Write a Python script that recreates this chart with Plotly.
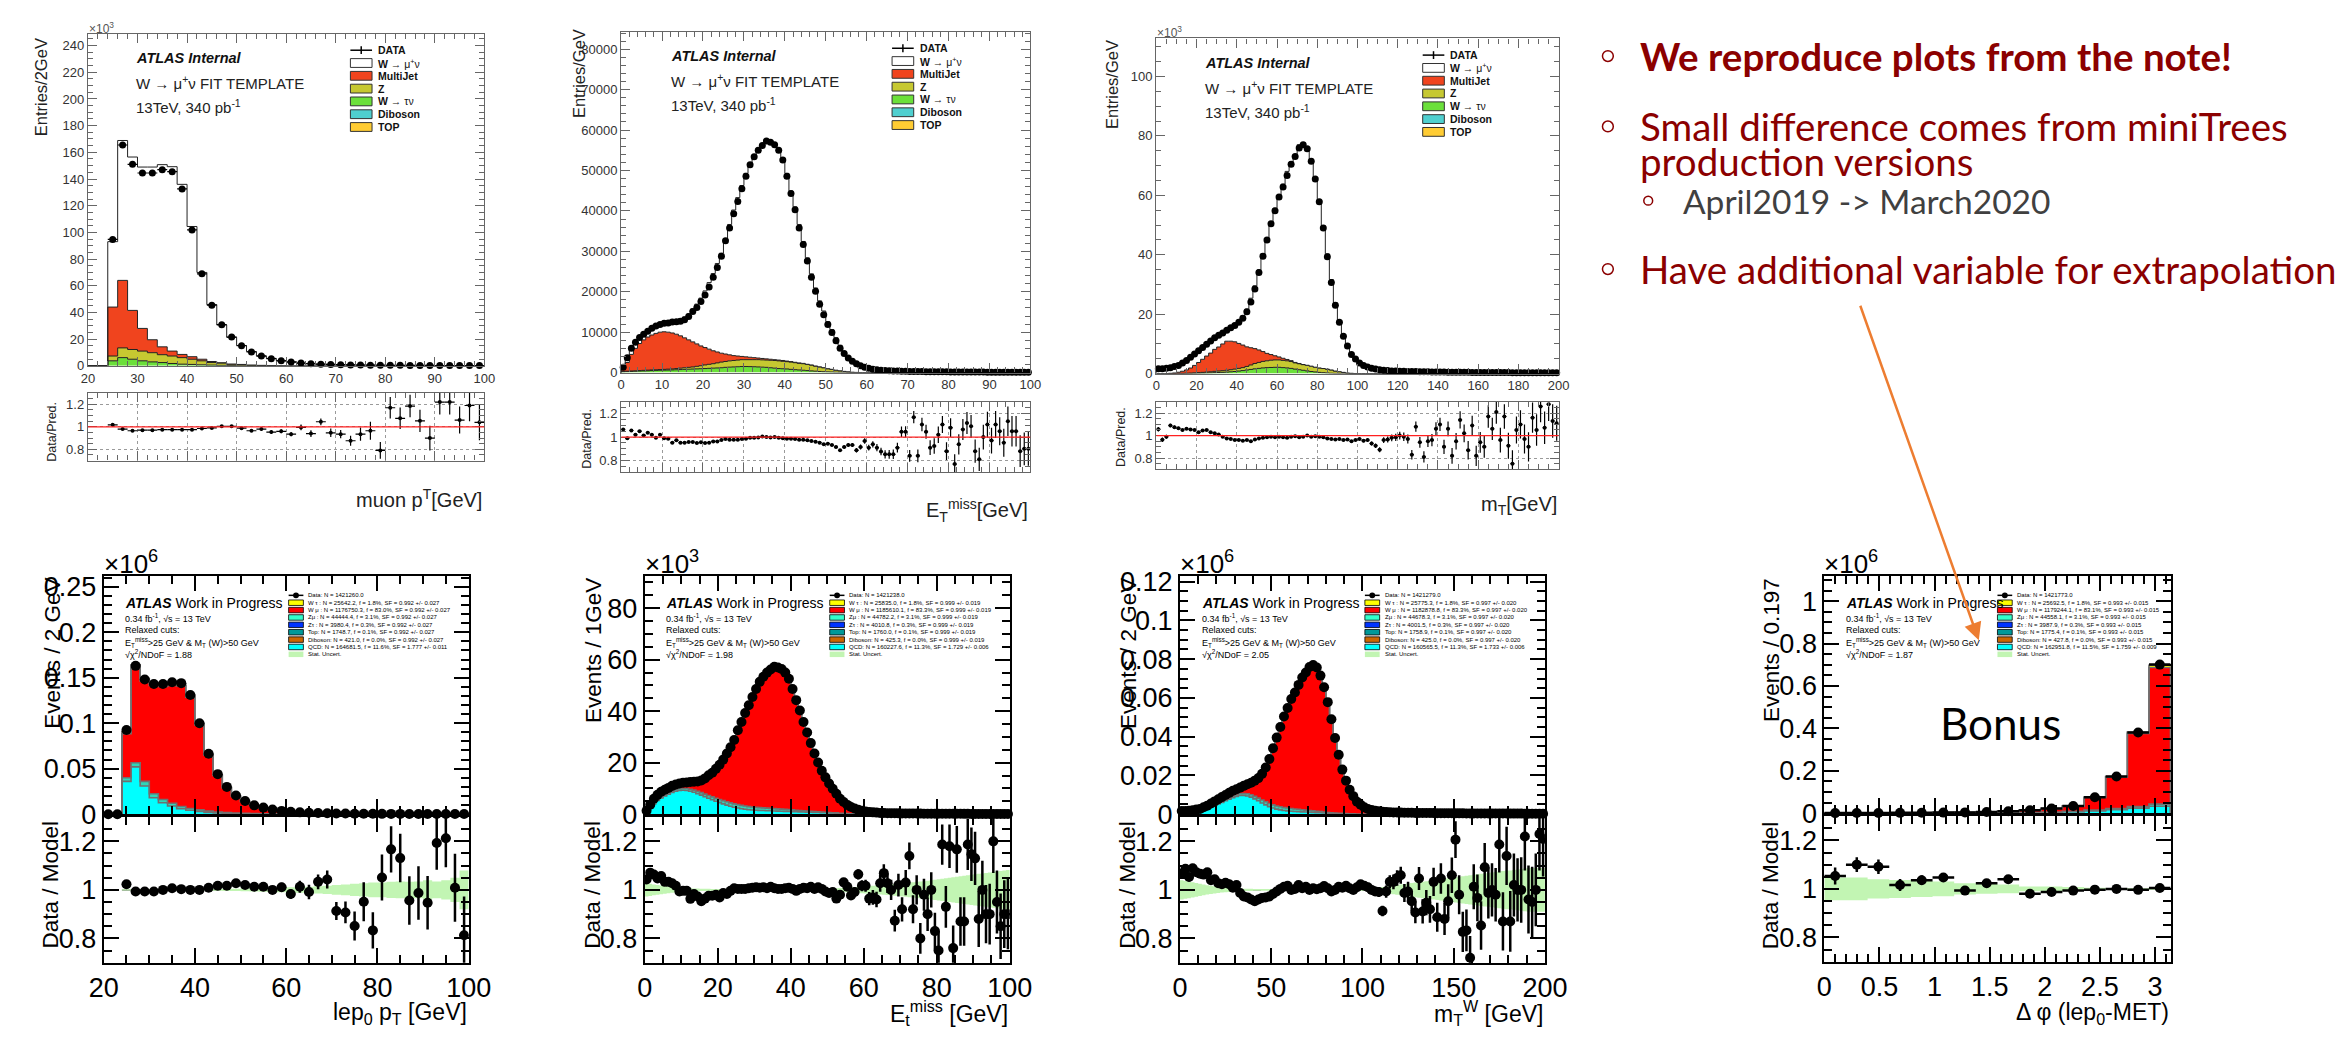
import numpy as np
import plotly.graph_objects as go

W, H = 2344, 1040
ROOT = "Liberation Sans"
SLIDE = "Lato"
nan = np.nan

# ================= top row: W -> mu nu FIT TEMPLATE =================
# muon pT, 2 GeV bins from 20 to 100 (entries x10^3)
pt_edges = np.arange(20, 102, 2)
pt_data = [nan, nan, 94.7, 165.5, 151.0, 144.5, 144.5, 147.0, 145.5, 132.6,
           101.8, 68.9, 45.4, 30.8, 21.5, 15.0, 10.3, 7.3, 5.3, 3.7,
           2.8, 2.0, 1.5, 1.2, 1.0, 0.8, 0.65, 0.55, 0.45, 0.4,
           0.35, 0.3, 0.28, 0.25, 0.22, 0.2, 0.18, 0.16, 0.14, 0.12]
pt_ratio = [nan, nan, 1.018, 0.98, 0.965, 0.97, 0.97, 0.975, 0.975, 0.975,
            0.975, 0.985, 0.99, 1.005, 1.005, 0.988, 0.965, 0.98, 0.953, 0.96,
            0.935, 0.995, 0.94, 1.045, 0.947, 0.935, 0.876, 0.935, 0.965, 0.79,
            1.17, 1.076, 1.185, 1.053, 0.9, 1.22, 1.22, 1.06, 1.19, 1.04]
pt_rerr = [nan, nan, 0.006, 0.005, 0.005, 0.005, 0.005, 0.005, 0.005, 0.005,
           0.005, 0.006, 0.007, 0.008, 0.009, 0.01, 0.012, 0.014, 0.016, 0.018,
           0.02, 0.025, 0.03, 0.03, 0.037, 0.037, 0.045, 0.06, 0.08, 0.075,
           0.095, 0.095, 0.1, 0.1, 0.11, 0.11, 0.11, 0.12, 0.14, 0.16]
pt_wtau = [0, 0, 3.7, 6.1, 4.9, 3.7, 2.9, 2.4, 1.7, 1.2,
           1.0, 0.7, 0.5, 0.3, 0.2, 0.1, 0.05, 0, 0, 0,
           0, 0, 0, 0, 0, 0, 0, 0, 0, 0,
           0, 0, 0, 0, 0, 0, 0, 0, 0, 0]
pt_z = [0, 0, 3.6, 7.3, 7.3, 7.3, 6.9, 5.9, 5.6, 4.9,
        3.9, 3.0, 1.9, 1.7, 1.0, 0.9, 0.5, 0.3, 0.2, 0.1,
        0, 0, 0, 0, 0, 0, 0, 0, 0, 0,
        0, 0, 0, 0, 0, 0, 0, 0, 0, 0]
pt_multijet = [0, 0, 36.7, 50.6, 29.3, 17.0, 9.7, 5.9, 3.7, 2.4,
               1.9, 1.2, 0.8, 0.3, 0.1, 0, 0, 0, 0, 0,
               0, 0, 0, 0, 0, 0, 0, 0, 0, 0,
               0, 0, 0, 0, 0, 0, 0, 0, 0, 0]

# missing ET, 1 GeV bins from 0 to 100 (entries x10^3)
met_edges = np.arange(0, 101, 1)
met_data = [1.3, 3.7, 6.0, 7.5, 8.7, 9.5, 10.2, 11.0, 11.5, 11.9,
            12.2, 12.3, 12.5, 12.6, 12.7, 13.1, 13.9, 15.1, 16.1, 17.6,
            19.2, 21.2, 23.6, 26.0, 28.8, 32.6, 35.8, 39.3, 42.3, 45.5,
            48.6, 51.4, 53.4, 55.0, 56.2, 57.3, 57.0, 56.4, 55.0, 52.6,
            48.6, 44.3, 40.3, 35.8, 31.7, 27.6, 23.6, 20.1, 16.9, 14.3,
            11.9, 9.9, 7.9, 6.0, 4.7, 3.6, 2.8, 2.2, 1.7, 1.3,
            1.05, 0.85, 0.7, 0.6, 0.5, 0.45, 0.4, 0.37, 0.34, 0.32,
            0.3, 0.28, 0.26, 0.25, 0.24, 0.22, 0.21, 0.2, 0.19, 0.18,
            0.17, 0.16, 0.15, 0.15, 0.14, 0.13, 0.13, 0.12, 0.12, 0.11,
            0.11, 0.1, 0.1, 0.09, 0.09, 0.09, 0.08, 0.08, 0.08, 0.07]
met_ratio = [1.065, 0.99, 1.056, 1.02, 1.05, 1.014, 1.037, 1.02, 0.995, 1.02,
             0.99, 0.985, 0.952, 0.972, 0.952, 0.952, 0.958, 0.958, 0.95, 0.955,
             0.95, 0.952, 0.963, 0.963, 0.975, 0.983, 0.977, 0.977, 0.977, 0.983,
             0.986, 0.994, 0.994, 0.997, 1.005, 1.0, 0.997, 1.0, 0.994, 0.99,
             0.986, 0.986, 0.983, 0.977, 0.977, 0.972, 0.966, 0.96, 0.952, 0.938,
             0.944, 0.932, 0.915, 0.887, 0.915, 0.932, 0.932, 0.887, 0.915, 0.966,
             0.91, 0.938, 0.91, 0.876, 0.853, 0.853, 0.853, 0.91, 1.045, 1.045,
             0.84, 1.17, 0.84, 1.107, 1.045, 0.91, 0.924, 1.02, 1.107, 0.88,
             1.08, 0.77, 0.938, 1.065, 1.12, 1.093, 0.88, 0.81, 1.0, 1.107,
             0.97, 1.107, 1.05, 0.952, 1.135, 1.05, 1.05, 0.88, 0.9, 0.9]
met_rerr = [0.008, 0.008, 0.008, 0.008, 0.008, 0.007, 0.007, 0.007, 0.007, 0.007,
            0.006, 0.006, 0.006, 0.006, 0.006, 0.006, 0.006, 0.006, 0.006, 0.006,
            0.005, 0.005, 0.005, 0.005, 0.005, 0.005, 0.005, 0.005, 0.005, 0.005,
            0.005, 0.005, 0.005, 0.005, 0.005, 0.005, 0.005, 0.005, 0.005, 0.005,
            0.005, 0.005, 0.005, 0.006, 0.006, 0.006, 0.007, 0.007, 0.008, 0.008,
            0.009, 0.01, 0.011, 0.012, 0.013, 0.015, 0.017, 0.019, 0.021, 0.023,
            0.025, 0.027, 0.03, 0.032, 0.035, 0.037, 0.04, 0.042, 0.045, 0.047,
            0.05, 0.052, 0.055, 0.058, 0.06, 0.063, 0.066, 0.07, 0.073, 0.076,
            0.08, 0.083, 0.086, 0.09, 0.093, 0.096, 0.1, 0.1, 0.105, 0.11,
            0.11, 0.115, 0.12, 0.12, 0.125, 0.13, 0.13, 0.135, 0.14, 0.145]
met_wtau = [0.2, 0.25, 0.3, 0.35, 0.4, 0.42, 0.45, 0.5, 0.55, 0.58,
            0.6, 0.63, 0.66, 0.7, 0.75, 0.8, 0.84, 0.88, 0.92, 0.96,
            1.0, 1.05, 1.1, 1.15, 1.2, 1.3, 1.35, 1.4, 1.45, 1.5,
            1.5, 1.48, 1.45, 1.4, 1.35, 1.3, 1.2, 1.1, 1.0, 0.95,
            0.9, 0.8, 0.72, 0.65, 0.58, 0.5, 0.42, 0.35, 0.28, 0.22,
            0.18, 0.14, 0.1, 0.07, 0.05, 0.03, 0.02, 0.01, 0, 0,
            0, 0, 0, 0, 0, 0, 0, 0, 0, 0,
            0, 0, 0, 0, 0, 0, 0, 0, 0, 0,
            0, 0, 0, 0, 0, 0, 0, 0, 0, 0,
            0, 0, 0, 0, 0, 0, 0, 0, 0, 0]
met_z = [0.1, 0.1, 0.1, 0.1, 0.1, 0.13, 0.15, 0.15, 0.15, 0.17,
         0.2, 0.22, 0.24, 0.3, 0.35, 0.4, 0.46, 0.52, 0.63, 0.74,
         0.9, 1.0, 1.1, 1.25, 1.4, 1.45, 1.55, 1.6, 1.65, 1.7,
         1.7, 1.72, 1.75, 1.8, 1.8, 1.8, 1.85, 1.9, 1.9, 1.85,
         1.8, 1.8, 1.73, 1.65, 1.62, 1.5, 1.43, 1.25, 1.12, 0.98,
         0.77, 0.66, 0.5, 0.38, 0.25, 0.17, 0.08, 0.04, 0, 0,
         0, 0, 0, 0, 0, 0, 0, 0, 0, 0,
         0, 0, 0, 0, 0, 0, 0, 0, 0, 0,
         0, 0, 0, 0, 0, 0, 0, 0, 0, 0,
         0, 0, 0, 0, 0, 0, 0, 0, 0, 0]
met_multijet = [0.7, 2.15, 4.1, 5.55, 6.7, 7.55, 8.2, 8.65, 9.0, 9.25,
                9.3, 9.15, 8.9, 8.5, 8.0, 7.4, 6.8, 6.2, 5.55, 4.9,
                4.3, 3.75, 3.2, 2.7, 2.2, 1.85, 1.5, 1.2, 1.0, 0.8,
                0.7, 0.6, 0.5, 0.4, 0.35, 0.3, 0.25, 0.2, 0.2, 0.2,
                0.15, 0.12, 0.1, 0.1, 0.08, 0.06, 0.05, 0.04, 0.03, 0.02,
                0.02, 0.01, 0, 0, 0, 0, 0, 0, 0, 0,
                0, 0, 0, 0, 0, 0, 0, 0, 0, 0,
                0, 0, 0, 0, 0, 0, 0, 0, 0, 0,
                0, 0, 0, 0, 0, 0, 0, 0, 0, 0,
                0, 0, 0, 0, 0, 0, 0, 0, 0, 0]

# transverse mass, 2 GeV bins from 0 to 200 (entries x10^3)
mt_edges = np.arange(0, 202, 2)
mt_data = [1.6, 1.6, 1.8, 2.0, 2.4, 2.7, 3.6, 4.4, 5.5, 6.6,
           7.7, 8.8, 9.9, 11.0, 12.1, 12.9, 13.7, 14.6, 15.4, 16.2,
           17.3, 18.6, 20.8, 24.1, 28.5, 34.0, 39.5, 45.0, 50.4, 54.8,
           59.4, 62.8, 66.7, 70.5, 73.1, 75.9, 77.0, 75.7, 71.5, 65.5,
           57.8, 49.0, 39.3, 30.7, 23.0, 17.3, 12.6, 9.3, 6.4, 4.9,
           3.6, 2.7, 2.2, 1.8, 1.5, 1.3, 1.1, 1.0, 0.9, 0.85,
           0.8, 0.76, 0.72, 0.69, 0.66, 0.63, 0.6, 0.58, 0.56, 0.54,
           0.52, 0.5, 0.48, 0.46, 0.45, 0.43, 0.42, 0.41, 0.4, 0.39,
           0.38, 0.37, 0.36, 0.35, 0.34, 0.33, 0.33, 0.32, 0.31, 0.31,
           0.3, 0.3, 0.29, 0.29, 0.28, 0.28, 0.27, 0.27, 0.26, 0.26]
mt_ratio = [1.057, 0.963, 0.99, 1.09, 1.075, 1.065, 1.05, 1.06, 1.055, 1.05,
            1.03, 1.045, 1.05, 1.03, 1.02, 1.01, 0.99, 0.975, 0.97, 0.96,
            0.96, 0.955, 0.96, 0.95, 0.965, 0.975, 0.98, 0.985, 0.99, 0.985,
            0.99, 0.985, 0.98, 0.99, 0.995, 0.985, 0.99, 1.0, 0.99, 0.995,
            0.99, 0.985, 0.975, 0.97, 0.965, 0.97, 0.96, 0.965, 0.95, 0.96,
            0.97, 0.955, 0.96, 0.93, 0.91, 0.875, 0.96, 0.965, 0.98, 0.985,
            1.0, 0.99, 0.97, 0.83, 1.08, 0.94, 0.81, 0.95, 0.96, 1.06,
            1.1, 0.9, 1.06, 0.82, 0.95, 1.14, 1.02, 0.87, 1.09, 0.82,
            0.94, 0.9, 1.17, 1.06, 1.21, 0.96, 1.17, 0.91, 0.75, 1.05,
            1.1, 0.97, 0.9, 1.16, 1.05, 1.26, 1.07, 1.28, 1.13, 1.11]
mt_rerr = [0.02, 0.02, 0.018, 0.016, 0.015, 0.014, 0.012, 0.011, 0.01, 0.01,
           0.009, 0.009, 0.008, 0.008, 0.008, 0.007, 0.007, 0.007, 0.007, 0.007,
           0.007, 0.007, 0.006, 0.006, 0.005, 0.005, 0.005, 0.005, 0.005, 0.005,
           0.005, 0.005, 0.005, 0.005, 0.005, 0.005, 0.005, 0.005, 0.005, 0.005,
           0.005, 0.005, 0.005, 0.006, 0.006, 0.007, 0.008, 0.009, 0.01, 0.011,
           0.012, 0.014, 0.016, 0.018, 0.02, 0.022, 0.025, 0.027, 0.03, 0.032,
           0.035, 0.037, 0.04, 0.042, 0.045, 0.047, 0.05, 0.052, 0.055, 0.058,
           0.06, 0.063, 0.066, 0.07, 0.073, 0.076, 0.08, 0.083, 0.086, 0.09,
           0.093, 0.096, 0.1, 0.1, 0.105, 0.11, 0.11, 0.115, 0.12, 0.12,
           0.125, 0.13, 0.13, 0.135, 0.14, 0.14, 0.145, 0.15, 0.15, 0.155]
mt_wtau = [0, 0, 0, 0, 0, 0.02, 0.03, 0.05, 0.07, 0.1,
           0.13, 0.16, 0.2, 0.25, 0.3, 0.35, 0.42, 0.5, 0.6, 0.7,
           0.85, 1.0, 1.2, 1.4, 1.6, 1.75, 1.9, 2.0, 2.05, 2.1,
           2.1, 2.0, 1.9, 1.75, 1.5, 1.3, 1.1, 0.9, 0.7, 0.55,
           0.4, 0.3, 0.2, 0.12, 0.06, 0.03, 0.01, 0, 0, 0,
           0, 0, 0, 0, 0, 0, 0, 0, 0, 0,
           0, 0, 0, 0, 0, 0, 0, 0, 0, 0,
           0, 0, 0, 0, 0, 0, 0, 0, 0, 0,
           0, 0, 0, 0, 0, 0, 0, 0, 0, 0,
           0, 0, 0, 0, 0, 0, 0, 0, 0, 0]
mt_z = [0, 0, 0, 0, 0, 0.03, 0.05, 0.08, 0.1, 0.15,
        0.2, 0.25, 0.3, 0.35, 0.45, 0.5, 0.55, 0.6, 0.7, 0.8,
        0.9, 1.0, 1.2, 1.5, 1.8, 2.0, 2.2, 2.3, 2.45, 2.5,
        2.5, 2.45, 2.4, 2.3, 2.1, 2.0, 1.9, 1.9, 1.8, 1.6,
        1.5, 1.4, 1.3, 1.1, 0.8, 0.6, 0.4, 0.2, 0.1, 0.03,
        0, 0, 0, 0, 0, 0, 0, 0, 0, 0,
        0, 0, 0, 0, 0, 0, 0, 0, 0, 0,
        0, 0, 0, 0, 0, 0, 0, 0, 0, 0,
        0, 0, 0, 0, 0, 0, 0, 0, 0, 0,
        0, 0, 0, 0, 0, 0, 0, 0, 0, 0]
mt_multijet = [0, 0, 0, 0.1, 0.2, 0.4, 0.7, 1.1, 1.7, 2.5,
               3.4, 4.4, 5.4, 6.3, 7.4, 8.1, 9.0, 9.8, 9.6, 9.2,
               8.4, 7.6, 6.6, 5.8, 5.0, 4.2, 3.3, 2.5, 1.9, 1.4,
               1.0, 0.7, 0.45, 0.3, 0.15, 0.1, 0.05, 0, 0, 0,
               0, 0, 0, 0, 0, 0, 0, 0, 0, 0,
               0, 0, 0, 0, 0, 0, 0, 0, 0, 0,
               0, 0, 0, 0, 0, 0, 0, 0, 0, 0,
               0, 0, 0, 0, 0, 0, 0, 0, 0, 0,
               0, 0, 0, 0, 0, 0, 0, 0, 0, 0,
               0, 0, 0, 0, 0, 0, 0, 0, 0, 0]

# ================= bottom row: template fit, Data / Model =================
# lep0 pT (events x10^6)
ptb_data = [0.0, 0.0, 0.0925, 0.163, 0.148, 0.143, 0.143, 0.145, 0.144, 0.131,
            0.100, 0.0665, 0.044, 0.030, 0.0205, 0.0144, 0.0097, 0.0072, 0.005, 0.0036,
            0.0027, 0.002, 0.0015, 0.0012, 0.001, 0.0008, 0.00065, 0.00055, 0.00045, 0.0004,
            0.00035, 0.0003, 0.00028, 0.00025, 0.00022, 0.0002, 0.00018, 0.00016, 0.00014, 0.00012]
ptb_ratio = [nan, nan, 1.023, 0.993, 0.993, 0.993, 1.0, 1.007, 1.003, 1.0,
             1.0, 1.009, 1.017, 1.017, 1.027, 1.02, 1.013, 1.013, 1.0, 1.011,
             0.983, 1.013, 0.991, 1.033, 1.043, 0.913, 0.907, 0.851, 0.951, 0.833,
             1.051, 1.167, 1.131, 0.956, 0.987, 0.947, 1.193, 1.213, 1.009, 0.813]
ptb_band = [nan, nan, 0.003, 0.003, 0.003, 0.003, 0.003, 0.003, 0.003, 0.003,
            0.003, 0.004, 0.004, 0.005, 0.005, 0.006, 0.007, 0.008, 0.009, 0.01,
            0.011, 0.012, 0.013, 0.015, 0.017, 0.02, 0.022, 0.025, 0.027, 0.03,
            0.03, 0.033, 0.035, 0.033, 0.035, 0.04, 0.035, 0.04, 0.05, 0.08]
ptb_qcd = [0, 0, 0.036, 0.052, 0.031, 0.018, 0.0126, 0.009, 0.006, 0.0043,
           0.003, 0.002, 0.0014, 0.001, 0.0007, 0.0005, 0.0003, 0.0002, 0.0001, 0.0001,
           0, 0, 0, 0, 0, 0, 0, 0, 0, 0,
           0, 0, 0, 0, 0, 0, 0, 0, 0, 0]
ptb_other = [0, 0, 0.004, 0.0045, 0.005, 0.0045, 0.0035, 0.003, 0.0025, 0.002,
             0.0017, 0.0013, 0.001, 0.0008, 0.0006, 0.0005, 0.0004, 0.0003, 0.0002, 0.0001,
             0, 0, 0, 0, 0, 0, 0, 0, 0, 0,
             0, 0, 0, 0, 0, 0, 0, 0, 0, 0]
ptb_wtau = [0, 0, 0.002, 0.003, 0.0027, 0.0026, 0.0026, 0.0026, 0.0026, 0.0024,
            0.0018, 0.0012, 0.0008, 0.0005, 0.0004, 0.0003, 0.0002, 0.0001, 0.0001, 0,
            0, 0, 0, 0, 0, 0, 0, 0, 0, 0,
            0, 0, 0, 0, 0, 0, 0, 0, 0, 0]

# missing ET (events x10^3, same data as the top row)
metb_ratio = [1.043, 1.071, 1.063, 1.047, 1.057, 1.033, 1.033, 1.027, 1.017, 0.993,
              0.996, 0.996, 0.963, 0.983, 0.973, 0.953, 0.964, 0.976, 0.976, 0.98,
              0.969, 0.987, 0.983, 0.996, 1.007, 1.004, 1.004, 1.004, 1.007, 1.009,
              1.011, 1.009, 1.011, 1.007, 1.013, 1.007, 1.004, 1.004, 1.007, 1.009,
              1.004, 0.996, 1.004, 1.009, 1.007, 1.013, 1.004, 1.011, 1.004, 0.993,
              0.987, 0.991, 0.964, 0.98, 1.031, 1.013, 0.977, 0.991, 1.064, 1.017,
              1.017, 0.964, 0.969, 0.96, 1.027, 1.069, 1.027, 1.0, 0.873, 1.02,
              0.92, 1.03, 1.14, 0.92, 1.0, 0.8, 0.98, 0.9, 1.0, 0.83,
              0.75, 1.187, 0.93, 1.18, 0.76, 1.167, 0.87, 0.87, 1.187, 1.147,
              1.13, 0.88, 1.0, 0.9, 0.9, 1.2, 0.95, 0.85, 0.9, 0.9]
metb_band = [0.027, 0.025, 0.022, 0.02, 0.018, 0.016, 0.014, 0.012, 0.011, 0.01,
             0.009, 0.008, 0.007, 0.006, 0.006, 0.005, 0.005, 0.005, 0.004, 0.004,
             0.004, 0.004, 0.004, 0.004, 0.004, 0.004, 0.004, 0.004, 0.004, 0.004,
             0.004, 0.004, 0.004, 0.004, 0.004, 0.004, 0.004, 0.004, 0.004, 0.004,
             0.004, 0.004, 0.004, 0.004, 0.004, 0.005, 0.005, 0.005, 0.005, 0.006,
             0.006, 0.007, 0.007, 0.008, 0.009, 0.01, 0.011, 0.012, 0.013, 0.014,
             0.015, 0.016, 0.017, 0.018, 0.019, 0.02, 0.021, 0.022, 0.024, 0.025,
             0.027, 0.028, 0.03, 0.031, 0.033, 0.035, 0.036, 0.038, 0.04, 0.042,
             0.044, 0.046, 0.048, 0.05, 0.052, 0.054, 0.056, 0.058, 0.06, 0.062,
             0.064, 0.066, 0.068, 0.07, 0.072, 0.074, 0.076, 0.078, 0.08, 0.082]
metb_qcd = [1.0, 2.5, 4.0, 5.3, 6.3, 7.1, 7.8, 8.4, 8.9, 9.2,
            9.3, 9.2, 8.9, 8.5, 8.0, 7.4, 6.8, 6.2, 5.6, 5.0,
            4.5, 4.0, 3.5, 3.1, 2.7, 2.4, 2.1, 1.9, 1.7, 1.6,
            1.5, 1.45, 1.4, 1.35, 1.3, 1.25, 1.2, 1.15, 1.1, 1.05,
            1.0, 0.95, 0.9, 0.85, 0.8, 0.75, 0.7, 0.65, 0.6, 0.55,
            0.5, 0.45, 0.4, 0.3, 0.25, 0.2, 0.15, 0.1, 0.05, 0.02,
            0, 0, 0, 0, 0, 0, 0, 0, 0, 0,
            0, 0, 0, 0, 0, 0, 0, 0, 0, 0,
            0, 0, 0, 0, 0, 0, 0, 0, 0, 0,
            0, 0, 0, 0, 0, 0, 0, 0, 0, 0]
metb_other = [0.2, 0.25, 0.3, 0.35, 0.4, 0.45, 0.5, 0.55, 0.6, 0.65,
              0.7, 0.75, 0.8, 0.85, 0.9, 0.95, 1.0, 1.05, 1.1, 1.15,
              1.2, 1.25, 1.3, 1.3, 1.3, 1.3, 1.3, 1.3, 1.25, 1.2,
              1.15, 1.1, 1.05, 1.0, 0.95, 0.9, 0.85, 0.8, 0.75, 0.7,
              0.65, 0.6, 0.55, 0.5, 0.45, 0.4, 0.35, 0.3, 0.25, 0.2,
              0.15, 0.12, 0.1, 0.08, 0.06, 0.04, 0.03, 0.02, 0.01, 0,
              0, 0, 0, 0, 0, 0, 0, 0, 0, 0,
              0, 0, 0, 0, 0, 0, 0, 0, 0, 0,
              0, 0, 0, 0, 0, 0, 0, 0, 0, 0,
              0, 0, 0, 0, 0, 0, 0, 0, 0, 0]

# transverse mass of W (events x10^6, same data as the top row)
mtb_ratio = [1.067, 1.087, 1.053, 1.089, 1.073, 1.067, 1.063, 1.073, 1.04, 1.044,
             1.027, 1.023, 1.029, 1.023, 1.009, 1.02, 0.987, 0.973, 0.969, 0.96,
             0.953, 0.96, 0.967, 0.969, 0.973, 0.983, 0.993, 1.004, 1.013, 1.017,
             1.0, 1.004, 1.02, 1.007, 1.013, 1.0, 1.007, 1.003, 1.007, 1.016,
             1.007, 0.993, 1.0, 1.013, 1.009, 1.017, 1.007, 1.0, 1.011, 1.023,
             1.017, 1.011, 1.0, 0.993, 0.991, 0.913, 0.993, 1.033, 1.033, 1.049,
             1.06, 0.987, 0.993, 0.953, 0.907, 1.047, 0.911, 0.947, 0.92, 1.033,
             0.887, 1.047, 0.88, 0.953, 1.06, 1.207, 0.98, 0.827, 0.833, 0.72,
             1.013, 0.967, 0.853, 1.093, 0.987, 1.0, 0.98, 1.187, 0.87, 1.14,
             0.87, 1.02, 1.0, 1.0, 1.22, 0.96, 0.95, 1.0, 1.23, 1.21]
mtb_band = [0.04, 0.037, 0.034, 0.031, 0.028, 0.025, 0.022, 0.019, 0.017, 0.015,
            0.013, 0.011, 0.01, 0.009, 0.008, 0.007, 0.006, 0.005, 0.005, 0.005,
            0.004, 0.004, 0.004, 0.004, 0.004, 0.004, 0.004, 0.004, 0.004, 0.004,
            0.004, 0.004, 0.004, 0.004, 0.004, 0.004, 0.004, 0.004, 0.004, 0.004,
            0.004, 0.004, 0.004, 0.004, 0.004, 0.004, 0.004, 0.004, 0.004, 0.004,
            0.005, 0.006, 0.007, 0.008, 0.009, 0.012, 0.014, 0.016, 0.018, 0.02,
            0.022, 0.024, 0.026, 0.028, 0.03, 0.032, 0.034, 0.036, 0.038, 0.04,
            0.042, 0.044, 0.046, 0.048, 0.05, 0.052, 0.054, 0.056, 0.058, 0.06,
            0.062, 0.064, 0.066, 0.068, 0.07, 0.072, 0.074, 0.076, 0.078, 0.08,
            0.08, 0.082, 0.084, 0.086, 0.088, 0.09, 0.09, 0.09, 0.09, 0.09]
mtb_qcd = [0.0008, 0.0009, 0.0011, 0.0013, 0.0016, 0.002, 0.0025, 0.003, 0.0037, 0.0045,
           0.0053, 0.0061, 0.0069, 0.0077, 0.0085, 0.0091, 0.0096, 0.0097, 0.0094, 0.0088,
           0.0079, 0.0069, 0.0058, 0.0048, 0.0039, 0.0032, 0.0026, 0.0022, 0.0019, 0.0017,
           0.0015, 0.0014, 0.0013, 0.0012, 0.0011, 0.001, 0.0009, 0.0008, 0.0007, 0.0006,
           0.0005, 0.0004, 0.0003, 0.0003, 0.0002, 0.0002, 0.0001, 0.0001, 0.0001, 0,
           0, 0, 0, 0, 0, 0, 0, 0, 0, 0,
           0, 0, 0, 0, 0, 0, 0, 0, 0, 0,
           0, 0, 0, 0, 0, 0, 0, 0, 0, 0,
           0, 0, 0, 0, 0, 0, 0, 0, 0, 0,
           0, 0, 0, 0, 0, 0, 0, 0, 0, 0]
mtb_other = [0.0001, 0.0001, 0.0001, 0.0002, 0.0002, 0.0002, 0.0003, 0.0003, 0.0004, 0.0004,
             0.0005, 0.0005, 0.0006, 0.0006, 0.0007, 0.0008, 0.0009, 0.001, 0.0011, 0.0012,
             0.0013, 0.0014, 0.0015, 0.0016, 0.0016, 0.0016, 0.0016, 0.0016, 0.0015, 0.0015,
             0.0014, 0.0013, 0.0012, 0.0011, 0.001, 0.0009, 0.0008, 0.0007, 0.0006, 0.0005,
             0.0004, 0.0003, 0.0003, 0.0002, 0.0002, 0.0001, 0.0001, 0.0001, 0, 0,
             0, 0, 0, 0, 0, 0, 0, 0, 0, 0,
             0, 0, 0, 0, 0, 0, 0, 0, 0, 0,
             0, 0, 0, 0, 0, 0, 0, 0, 0, 0,
             0, 0, 0, 0, 0, 0, 0, 0, 0, 0,
             0, 0, 0, 0, 0, 0, 0, 0, 0, 0]

# delta phi(lep0, MET), 16 bins of pi/16 (events x10^6)
dphi_edges = np.linspace(0, np.pi, 17)
dphi_data = [0.0005, 0.0008, 0.0011, 0.0015, 0.002, 0.0028, 0.0038, 0.0055,
             0.009, 0.014, 0.0216, 0.034, 0.0755, 0.173, 0.381, 0.701]
dphi_ratio = [1.053, 1.1, 1.091, 1.016, 1.036, 1.047, 0.993, 1.023,
              1.04, 0.98, 0.987, 0.993, 0.997, 1.0, 0.996, 1.004]
dphi_rerr = [0.035, 0.03, 0.03, 0.025, 0.02, 0.015, 0.012, 0.01,
             0.008, 0.006, 0.005, 0.004, 0.003, 0.002, 0.002, 0.002]
dphi_band = [0.047, 0.047, 0.04, 0.037, 0.033, 0.03, 0.023, 0.02,
             0.018, 0.01, 0.01, 0.008, 0.005, 0.003, 0.003, 0.003]
dphi_qcd = [0.0001, 0.0002, 0.0002, 0.0003, 0.0004, 0.0005, 0.0007, 0.001,
            0.0015, 0.0025, 0.004, 0.0065, 0.011, 0.017, 0.024, 0.033]
dphi_other = [0.0001, 0.0001, 0.0001, 0.0001, 0.0002, 0.0002, 0.0003, 0.0004,
              0.0006, 0.0009, 0.0013, 0.002, 0.0035, 0.005, 0.007, 0.01]
dphi_wtau = [0, 0, 0, 0, 0, 0, 0, 0, 0, 0, 0, 0, 0.0015, 0.003, 0.006, 0.011]

# legend texts
top_legend = ["<b>DATA</b>", "<b>W</b> → μ<sup>+</sup>ν", "<b>MultiJet</b>", "<b>Z</b>",
              "<b>W</b> → τν", "<b>Diboson</b>", "<b>TOP</b>"]
fit_legend = {
    "pt": ["1421260.0", "25642.2", "1.8", "0.992", "0.027", "1176750.3", "83.0", "44444.4",
           "3980.4", "1748.7", "421.0", "164681.5", "11.6", "1.777", "0.011", "1.88"],
    "met": ["1421238.0", "25835.0", "1.8", "0.999", "0.019", "1185610.1", "83.3", "44782.2",
            "4010.8", "1760.0", "425.3", "160227.6", "11.3", "1.729", "0.006", "1.98"],
    "mt": ["1421279.0", "25775.3", "1.8", "0.997", "0.020", "1182878.8", "83.3", "44678.3",
           "4001.5", "1758.9", "425.0", "160565.5", "11.3", "1.733", "0.006", "2.05"],
    "dphi": ["1421773.0", "25692.5", "1.8", "0.993", "0.015", "1179244.1", "83.1", "44558.1",
             "3987.9", "1775.4", "427.8", "162951.8", "11.5", "1.759", "0.009", "1.87"],
}

# colours
MJ, ZC, WTN, DIB, TOPC = "#F0441E", "#C6C831", "#6BE03A", "#4FCFCF", "#FFCC33"
FIT_COLORS = ["#FFFF00", "#FF0000", "#33FFCC", "#0033FF", "#009999", "#CC6600", "#00FFFF", "#C2F5B3"]
OTHER = "#2FD6B8"
GREY = "#666666"
RED_TXT = "#8B0000"

fig = go.Figure()
layout = dict(width=W, height=H, autosize=False, margin=dict(l=0, r=0, t=0, b=0),
              paper_bgcolor="white", plot_bgcolor="white", showlegend=False)
annotations = []
shapes = []


def label(x, y, s, size, color="black", xa="left", ya="middle", family=ROOT, angle=0):
    annotations.append(dict(x=x / W, y=1 - y / H, xref="paper", yref="paper", text=s,
                            showarrow=False, xanchor=xa, yanchor=ya, textangle=angle,
                            font=dict(family=family, size=size, color=color)))


def rect(x0, y0, x1, y1, fill, line=None, lw=0.8):
    shapes.append(dict(type="rect", xref="paper", yref="paper", x0=x0 / W, x1=x1 / W,
                       y0=1 - y1 / H, y1=1 - y0 / H, fillcolor=fill,
                       line=dict(color=line or fill, width=lw if line else 0)))


def seg(x0, y0, x1, y1, color, lw):
    shapes.append(dict(type="line", xref="paper", yref="paper", x0=x0 / W, x1=x1 / W,
                       y0=1 - y0 / H, y1=1 - y1 / H, line=dict(color=color, width=lw)))


def axes_pair(n, box, xr, yr, xs, ys):
    s = "" if n == 1 else str(n)
    x0, x1, y0, y1 = box
    layout["xaxis" + s] = dict(domain=[x0 / W, x1 / W], range=xr, anchor="y" + s, **xs)
    layout["yaxis" + s] = dict(domain=[1 - y1 / H, 1 - y0 / H], range=yr, anchor="x" + s, **ys)
    return "x" + s, "y" + s


def root_axis(dtick, minor, labels=True, grid=False):
    return dict(tick0=0, dtick=dtick, showline=True, linecolor=GREY, linewidth=1.3,
                mirror="allticks", ticks="inside", ticklen=9, tickwidth=1, tickcolor=GREY,
                minor=dict(tick0=0, dtick=minor, ticks="inside", ticklen=5, tickwidth=1, tickcolor=GREY),
                showticklabels=labels, exponentformat="none", tickformat="d" if dtick >= 1 else "",
                tickfont=dict(family=ROOT, size=13, color="#333333"),
                showgrid=grid, gridcolor="#9a9a9a", griddash="dot", gridwidth=1, zeroline=False)


def atlas_axis(dtick, minor, labels=True):
    return dict(tick0=0, dtick=dtick, showline=True, linecolor="black", linewidth=2,
                mirror="allticks", ticks="inside", ticklen=15, tickwidth=2, tickcolor="black",
                minor=dict(tick0=0, dtick=minor, ticks="inside", ticklen=8, tickwidth=2, tickcolor="black"),
                showticklabels=labels, tickfont=dict(family=ROOT, size=27, color="black"),
                showgrid=False, zeroline=False)


def draw_stack(ax, edges, layers, line, lw):
    total = np.zeros(len(edges) - 1)
    for i, (vals, color) in enumerate(layers):
        total = total + np.nan_to_num(np.asarray(vals, float))
        x = np.r_[edges[0], edges]
        y = np.r_[0.0, total, 0.0]
        fig.add_trace(go.Scatter(x=x, y=y, xaxis=ax[0], yaxis=ax[1], mode="lines",
                                 line=dict(shape="hv", color=line, width=lw),
                                 fill="tozeroy" if i == 0 else "tonexty", fillcolor=color,
                                 hoverinfo="skip"))


def points(ax, x, y, xerr, yerr, size, lw, clip=True):
    fig.add_trace(go.Scatter(
        x=x, y=y, xaxis=ax[0], yaxis=ax[1], mode="markers", cliponaxis=clip,
        marker=dict(color="black", size=size),
        error_x=dict(type="constant", value=xerr, width=0, thickness=lw, color="black"),
        error_y=dict(type="data", array=yerr, width=0, thickness=lw, color="black",
                     visible=yerr is not None),
        hoverinfo="skip"))


def top_plot(n, box, rbox, edges, data, ratio, rerr, bkgs, xt, yt, yr, scale=1.0):
    xr = [edges[0], edges[-1]]
    main = axes_pair(n, box, xr, yr, root_axis(*xt), root_axis(*yt))
    rat = axes_pair(n + 1, rbox, xr, [0.7, 1.3], root_axis(*xt, labels=False, grid=True),
                    root_axis(0.2, 0.05, grid=True))
    centers = (edges[:-1] + edges[1:]) / 2
    half = (edges[1] - edges[0]) / 2
    d = np.asarray(data, float) * scale
    pred = np.nan_to_num(d / np.asarray(ratio, float))
    layers = [(np.asarray(v, float) * scale, c) for v, c in bkgs]
    rest = np.clip(pred - sum(v for v, _ in layers), 0, None)
    layers.append((rest, "white"))
    draw_stack(main, edges, layers, "#222222", 1)
    points(main, centers, d, half, None, 7, 1.2, clip=False)
    points(rat, centers, ratio, half, rerr, 4, 1.2)
    shapes.append(dict(type="line", xref=rat[0], yref=rat[1], x0=xr[0], x1=xr[1], y0=1, y1=1,
                       line=dict(color="#ff2020", width=1.3)))
    # text inside the pad
    x0, x1, y0, _ = box
    w = x1 - x0
    tx = x0 + 0.117 * w
    label(tx, y0 + 25, "<b><i>ATLAS Internal</i></b>", 14.5, "#111111")
    label(tx, y0 + 50, "W → μ<sup>+</sup>ν FIT TEMPLATE", 15, "#222222")
    label(tx, y0 + 75, "13TeV, 340 pb<sup>-1</sup>", 15, "#222222")
    lx = x0 + 0.662 * w
    for i, (txt, col) in enumerate(zip(top_legend, [None, "white", MJ, ZC, WTN, DIB, TOPC])):
        yc = y0 + 17 + 13.1 * i
        if col is None:
            seg(lx, yc, lx + 22, yc, "black", 1.5)
            seg(lx + 11, yc - 4, lx + 11, yc + 4, "black", 1.5)
        else:
            rect(lx, yc - 4.5, lx + 22, yc + 4.5, col, "#333333", 1)
        label(lx + 26, yc, txt, 10.5, "#111111")


def fit_plot(n, box, rbox, edges, data, ratio, rerr, band, bkgs, key, xt, yt, yr, first=0):
    xr = [edges[0], edges[-1]]
    main = axes_pair(n, box, xr, yr, atlas_axis(*xt, labels=False), atlas_axis(*yt))
    rat = axes_pair(n + 1, rbox, xr, [0.7, 1.3], atlas_axis(*xt), atlas_axis(0.2, 0.05))
    centers = (edges[:-1] + edges[1:]) / 2
    half = (edges[1] - edges[0]) / 2
    d = np.asarray(data, float)
    pred = np.nan_to_num(d / np.asarray(ratio, float))
    qcd, other, wtau = [np.asarray(v, float) for v in bkgs]
    wmu = np.clip(pred - qcd - other - wtau, 0, None)
    draw_stack(main, edges, [(qcd, "#00FFFF"), (other, OTHER), (wmu, "#FF0000"), (wtau, "#FFFF00")],
               "#707070", 1.6)
    points(main, centers, d, half, None, 10, 2.5, clip=False)
    # statistical band and reference line
    e = edges[first:]
    b = np.asarray(band[first:], float)
    for yy, fill in [(np.r_[1 - b, 1 - b[-1]], "none"), (np.r_[1 + b, 1 + b[-1]], "tonexty")]:
        fig.add_trace(go.Scatter(x=e, y=yy, xaxis=rat[0], yaxis=rat[1], mode="lines",
                                 line=dict(shape="hv", width=0, color="#C2F5B3"),
                                 fill=fill, fillcolor="#C2F5B3", hoverinfo="skip"))
    shapes.append(dict(type="line", xref=rat[0], yref=rat[1], x0=e[0], x1=e[-1], y0=1, y1=1,
                       line=dict(color="#888888", width=2, dash="dash"), layer="below"))
    points(rat, centers, ratio, half, rerr, 10, 2.5)
    # text inside the pad
    x0, y0 = box[0], box[2]
    v = fit_legend[key]
    label(x0 + 20, y0 + 28, "<b><i>ATLAS</i></b> Work in Progress", 14)
    label(x0 + 20, y0 + 43, "0.34 fb<sup>-1</sup>, √s = 13 TeV", 9)
    label(x0 + 20, y0 + 55, "Relaxed cuts:", 9)
    label(x0 + 20, y0 + 68, "E<sub>T</sub><sup>miss</sup>&gt;25 GeV &amp; M<sub>T</sub> (W)&gt;50 GeV", 9)
    label(x0 + 20, y0 + 80, "√χ<sup>2</sup>/NDoF = " + v[15], 9)
    rows = ["Data: N = %s" % v[0],
            "W τ : N = %s, f = %s%%, SF = %s +/- %s" % (v[1], v[2], v[3], v[4]),
            "W μ : N = %s, f = %s%%, SF = %s +/- %s" % (v[5], v[6], v[3], v[4]),
            "Zμ : N = %s, f = 3.1%%, SF = %s +/- %s" % (v[7], v[3], v[4]),
            "Zτ : N = %s, f = 0.3%%, SF = %s +/- %s" % (v[8], v[3], v[4]),
            "Top: N = %s, f = 0.1%%, SF = %s +/- %s" % (v[9], v[3], v[4]),
            "Diboson: N = %s, f = 0.0%%, SF = %s +/- %s" % (v[10], v[3], v[4]),
            "QCD: N = %s, f = %s%%, SF = %s +/- %s" % (v[11], v[12], v[13], v[14]),
            "Stat. Uncert."]
    lx = x0 + (176 if key == "dphi" else 188)
    for i, txt in enumerate(rows):
        yc = y0 + 20 + 7.55 * i
        if i == 0:
            seg(lx, yc, lx + 15, yc, "black", 1.5)
            shapes.append(dict(type="circle", xref="paper", yref="paper", x0=(lx + 4.5) / W,
                               x1=(lx + 10.5) / W, y0=1 - (yc + 3) / H, y1=1 - (yc - 3) / H,
                               fillcolor="black", line=dict(width=0)))
        elif i == 8:
            rect(lx, yc - 2.8, lx + 15, yc + 2.8, FIT_COLORS[7])
        else:
            rect(lx, yc - 2.8, lx + 15, yc + 2.8, FIT_COLORS[i - 1], "black", 0.8)
        label(lx + 18, yc, txt, 6)


# ---------------- top row ----------------
top_plot(1, (66, 469, 17, 357), (66, 469, 385, 454), pt_edges, pt_data, pt_ratio, pt_rerr,
         [(pt_wtau, WTN), (pt_z, ZC), (pt_multijet, MJ)], (10, 2), (20, 5), [0, 249])
top_plot(3, (608, 1024, 15, 364), (608, 1024, 394, 466), met_edges, met_data, met_ratio, met_rerr,
         [(met_wtau, WTN), (met_z, ZC), (met_multijet, MJ)], (10, 2), (10000, 2000), [0, 84350],
         scale=1000)
top_plot(5, (1152, 1561, 22, 365), (1152, 1561, 394, 463), mt_edges, mt_data, mt_ratio, mt_rerr,
         [(mt_wtau, WTN), (mt_z, ZC), (mt_multijet, MJ)], (20, 5), (20, 5), [0, 112.8])

label(18, 20, "Entries/2GeV", 16.5, "#222222", "center", "top", angle=-90)
label(565, 10, "Entries/GeV", 16.5, "#222222", "center", "top", angle=-90)
label(1107, 22, "Entries/GeV", 16.5, "#222222", "center", "top", angle=-90)
label(30, 425, "Data/Pred.", 12.5, "#222222", "center", "middle", angle=-90)
label(573, 432, "Data/Pred.", 12.5, "#222222", "center", "middle", angle=-90)
label(1116, 430, "Data/Pred.", 12.5, "#222222", "center", "middle", angle=-90)
label(469, 493, "muon p<sup>T</sup>[GeV]", 20, "#222222", "right")
label(1024, 505, "E<sub>T</sub><sup>miss</sup>[GeV]", 20, "#222222", "right")
label(1561, 500, "m<sub>T</sub>[GeV]", 20, "#222222", "right")
label(65, 11, "×10<sup>3</sup>", 12, "#555555")
label(1151, 15, "×10<sup>3</sup>", 12, "#555555")

# ---------------- bottom row ----------------
fit_plot(7, (82, 453, 572, 816), (82, 453, 819, 968), pt_edges, ptb_data, ptb_ratio, pt_rerr,
         ptb_band, [ptb_qcd, ptb_other, ptb_wtau], "pt", (20, 5), (0.05, 0.01), [0, 0.262], first=2)
fit_plot(9, (632, 1003, 572, 816), (632, 1003, 819, 968), met_edges, met_data, metb_ratio, met_rerr,
         metb_band, [metb_qcd, metb_other, np.zeros(100)], "met", (20, 5), (20, 5), [0, 92.6])
fit_plot(11, (1176, 1547, 572, 816), (1176, 1547, 819, 968), mt_edges, np.asarray(mt_data) / 1000,
         mtb_ratio, mt_rerr, mtb_band, [mtb_qcd, mtb_other, np.zeros(100)], "mt", (50, 10),
         (0.02, 0.005), [0, 0.123])
fit_plot(13, (1831, 2183, 572, 815), (1831, 2183, 818, 967), dphi_edges, dphi_data, dphi_ratio,
         dphi_rerr, dphi_band, [dphi_qcd, dphi_other, dphi_wtau], "dphi", (0.5, 0.1), (0.2, 0.05),
         [0, 1.12])

for xc, title in [(30, "Events / 2 GeV"), (580, "Events / 1GeV"), (1124, "Events / 2 GeV"),
                  (1778, "Events / 0.197")]:
    label(xc, 572, title, 22.5, "black", "center", "top", angle=-90)
    label(xc - 2, 821, "Data / Model", 22.5, "black", "center", "top", angle=-90)
for x0, exp in [(82, "6"), (632, "3"), (1176, "6"), (1831, "6")]:
    label(x0 - 2, 558, "×10<sup>%s</sup>" % exp, 26)
label(453, 1020, "lep<sub>0</sub> p<sub>T</sub> [GeV]", 23, "black", "right")
label(1003, 1020, "E<sub>t</sub><sup>miss</sup> [GeV]", 23, "black", "right")
label(1547, 1020, "m<sub>T</sub><sup>W</sup> [GeV]", 23, "black", "right")
label(2183, 1020, "Δ φ (lep<sub>0</sub>-MET)", 23, "black", "right")

# ---------------- slide text ----------------
for xc, yc, r in [(1611, 40, 5.5), (1611, 112, 5.5), (1652, 188, 4.5), (1611, 258, 5.5)]:
    shapes.append(dict(type="circle", xref="paper", yref="paper", x0=(xc - r) / W, x1=(xc + r) / W,
                       y0=1 - (yc + r) / H, y1=1 - (yc - r) / H, line=dict(color=RED_TXT, width=1.5)))
label(1642, 40, "<b>We reproduce plots from the note!</b>", 38.5, RED_TXT, family=SLIDE)
label(1642, 112, "Small difference comes from miniTrees", 38.5, RED_TXT, family=SLIDE)
label(1642, 147, "production versions", 38.5, RED_TXT, family=SLIDE)
label(1685, 188, "April2019 -&gt; March2020", 33.5, "#404040", family=SLIDE)
label(1642, 258, "Have additional variable for extrapolation", 38.5, RED_TXT, family=SLIDE)
label(2010, 723, "Bonus", 44, "black", "center", family=SLIDE)
annotations.append(dict(x=1988 / W, y=1 - 638 / H, xref="paper", yref="paper", text="",
                        showarrow=True, ax=-119, ay=-336, arrowhead=2, arrowsize=1.4,
                        arrowwidth=2.5, arrowcolor="#ED7D31", standoff=0))

layout["annotations"] = annotations
layout["shapes"] = shapes
fig.update_layout(**layout)
fig.write_html("out.html")
